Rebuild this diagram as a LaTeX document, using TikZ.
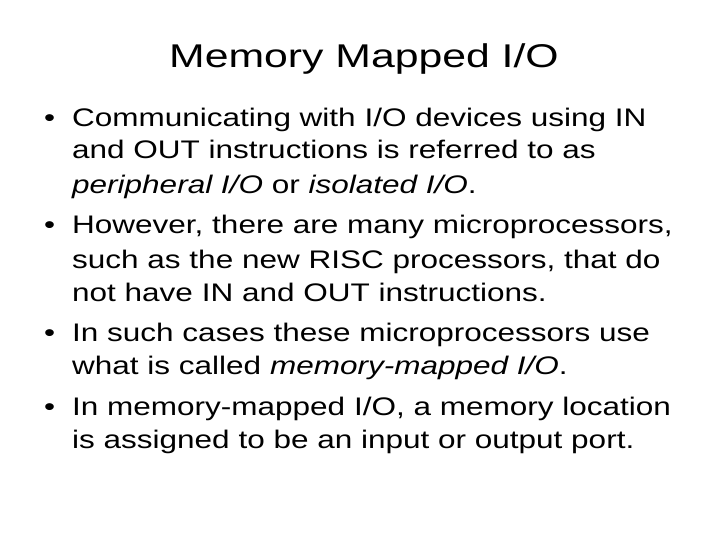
\documentclass[tikz,border=0pt]{standalone}
\usepackage{fontspec}
\setmainfont{Liberation Sans}[FakeStretch=1.24]
\newfontfamily\titlefont{Liberation Sans}[FakeStretch=1.3]
\begin{document}
\begin{tikzpicture}[x=1bp,y=-1bp,
  ln/.style={anchor=base west,inner sep=0pt,font=\fontsize{25.5}{30}\selectfont}]
\useasboundingbox[fill=white] (0,0) rectangle (720,540);
\node[anchor=base,inner sep=0pt,font=\titlefont\fontsize{33}{38}\selectfont] (title) at (364,68) {Memory Mapped I/O};
\node[ln] (b1) at (44,126.7) {•};
\node[ln] (l1) at (72,126.7) {Communicating with I/O devices using IN};
\node[ln] (l2) at (72,158.3) {and OUT instructions is referred to as};
\node[ln] (l3) at (72,193.3) {\itshape peripheral I/O \upshape or \itshape isolated I/O\upshape.};
\node[ln] (b2) at (44,233.3) {•};
\node[ln] (l4) at (72,233.3) {However, there are many microprocessors,};
\node[ln] (l5) at (72,268.3) {such as the new RISC processors, that do};
\node[ln] (l6) at (72,301.7) {not have IN and OUT instructions.};
\node[ln] (b3) at (44,341.7) {•};
\node[ln] (l7) at (72,341.7) {In such cases these microprocessors use};
\node[ln] (l8) at (72,374.3) {what is called \itshape memory-mapped I/O\upshape.};
\node[ln] (b4) at (44,415) {•};
\node[ln] (l9) at (72,415) {In memory-mapped I/O, a memory location};
\node[ln] (l10) at (72,448.3) {is assigned to be an input or output port.};
\end{tikzpicture}
\end{document}
